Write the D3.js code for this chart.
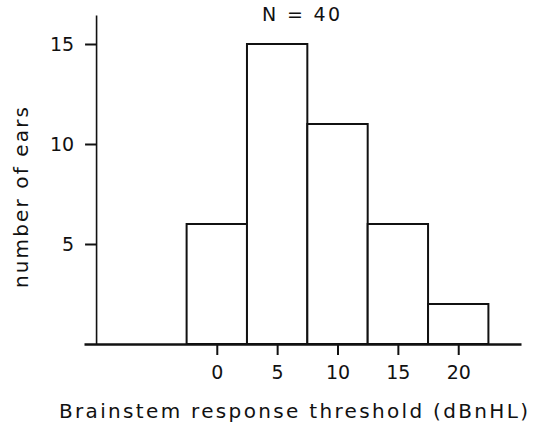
<!DOCTYPE html>
<html>
<head>
<meta charset="utf-8">
<script src="https://cdn.jsdelivr.net/npm/d3@7"></script>
<style>
  html, body { margin: 0; padding: 0; background: #fff; }
  svg { display: block; }
  text { font-family: "DejaVu Sans", sans-serif; fill: #111; }
</style>
</head>
<body>
<svg id="chart" width="547" height="426"></svg>
<script>
// Histogram of brainstem response thresholds
const thresholds = [0, 5, 10, 15, 20];      // bin centres (dBnHL)
const ears = [6, 15, 11, 6, 2];             // number of ears per bin
const xTickValues = [0, 5, 10, 15, 20];
const yTickValues = [5, 10, 15];
const binWidth = 5;
const titleText = "N = 40";
const xTitle = "Brainstem response threshold (dBnHL)";
const yTitle = "number of ears";

const svg = d3.select("#chart");

const x = d3.scaleLinear().domain([-11, 25.2]).range([84, 521]);
const y = d3.scaleLinear().domain([0, 16.45]).range([344, 15]);

// bars
svg.append("g")
  .selectAll("rect")
  .data(thresholds.map((t, i) => ({ t, n: ears[i] })))
  .join("rect")
  .attr("x", d => x(d.t - binWidth / 2))
  .attr("width", d => x(d.t + binWidth / 2) - x(d.t - binWidth / 2))
  .attr("y", d => y(d.n))
  .attr("height", d => y(0) - y(d.n))
  .attr("fill", "#fff")
  .attr("stroke", "#111")
  .attr("stroke-width", 2);

// y axis
const yAxis = svg.append("g")
  .attr("transform", `translate(${x(-10)},0)`)
  .call(d3.axisLeft(y).tickValues(yTickValues).tickSize(11).tickSizeOuter(0).tickPadding(11));
yAxis.select(".domain").attr("stroke", "#111").attr("stroke-width", 1.6);
yAxis.selectAll(".tick line").attr("stroke", "#111").attr("stroke-width", 2);
yAxis.selectAll(".tick text")
  .attr("font-size", 19)
  .attr("font-family", "DejaVu Sans, sans-serif")
  .attr("fill", "#111")
  .attr("dy", "0.36em");

// x axis
const xAxis = svg.append("g")
  .attr("transform", `translate(0,${y(0)})`)
  .call(d3.axisBottom(x).tickValues(xTickValues).tickSize(11).tickSizeOuter(0));
xAxis.select(".domain").attr("stroke", "#111").attr("stroke-width", 2.6);
xAxis.selectAll(".tick line").attr("stroke", "#111").attr("stroke-width", 2);
xAxis.selectAll(".tick text")
  .attr("font-size", 19)
  .attr("font-family", "DejaVu Sans, sans-serif")
  .attr("fill", "#111")
  .attr("y", 35)
  .attr("dy", 0);

// titles
svg.append("text")
  .attr("x", 262).attr("y", 21)
  .attr("font-size", 19)
  .attr("textLength", 78).attr("lengthAdjust", "spacing")
  .text(titleText);

svg.append("text")
  .attr("x", 59).attr("y", 418)
  .attr("font-size", 20)
  .attr("textLength", 469).attr("lengthAdjust", "spacing")
  .text(xTitle);

svg.append("text")
  .attr("transform", "translate(28,288) rotate(-90)")
  .attr("x", 0).attr("y", 0)
  .attr("font-size", 20)
  .attr("textLength", 181).attr("lengthAdjust", "spacing")
  .text(yTitle);
</script>
</body>
</html>
